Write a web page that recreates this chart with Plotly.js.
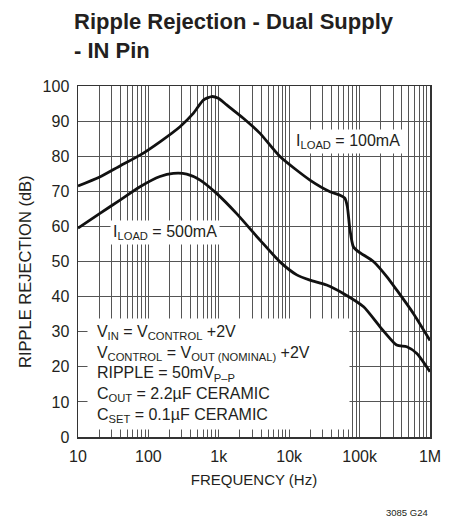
<!DOCTYPE html>
<html>
<head>
<meta charset="utf-8">
<script src="https://cdn.plot.ly/plotly-3.0.1.min.js"></script>
<style>html,body{margin:0;padding:0;background:#fff;}#chart{width:461px;height:519px;}</style>
</head>
<body>
<div id="chart"></div>
<script>
// Data
const freq100 = [10, 20, 40, 76, 146, 281, 434, 603, 792, 985, 1294, 2230, 3850, 7400, 19700, 38000, 52700, 62000, 67000, 73000, 81500, 96000, 157000, 243000, 336000, 580000, 1000000];
const db100   = [71.5, 74.0, 77.3, 80.3, 84.1, 88.4, 92.2, 96.0, 97.0, 96.5, 94.6, 90.8, 86.5, 79.9, 73.2, 69.9, 68.9, 68.0, 65.6, 59.0, 54.2, 52.8, 50.0, 45.7, 41.9, 35.2, 27.5];
const freq500 = [10, 20.5, 39.5, 76, 146, 226, 350, 543, 930, 1780, 3850, 7400, 12800, 19700, 34000, 58600, 114000, 195000, 336000, 468000, 650000, 1000000];
const db500   = [59.5, 63.7, 67.5, 71.3, 74.2, 75.1, 74.9, 73.2, 69.4, 63.7, 56.1, 49.9, 46.2, 44.7, 43.3, 40.9, 37.1, 31.4, 26.2, 25.7, 23.8, 18.6];
const xTickVals = [10, 100, 1000, 10000, 100000, 1000000];
const xTickText = ['10', '100', '1k', '10k', '100k', '1M'];
const yTickVals = [0, 10, 20, 30, 40, 50, 60, 70, 80, 90, 100];
const titleLines = ['Ripple Rejection - Dual Supply', '- IN Pin'];
const noteLines = [
  'V<sub>IN</sub> = V<sub>CONTROL</sub> +2V',
  'V<sub>CONTROL</sub> = V<sub>OUT (NOMINAL)</sub> +2V',
  'RIPPLE = 50mV<sub>P–P</sub>',
  'C<sub>OUT</sub> = 2.2µF CERAMIC',
  'C<sub>SET</sub> = 0.1µF CERAMIC'
];

const FONT = '"Liberation Sans", Arial, Helvetica, sans-serif';
const INK = '#231f20';

// minor grid values: 2..9 multiples in each decade
const minorVals = [];
for (let d = 10; d < 1000000; d *= 10) {
  for (let m = 2; m <= 9; m++) minorVals.push(d * m);
}

const traces = [
  {x: freq100, y: db100, mode: 'lines', line: {color: '#111', width: 2.8, shape: 'spline', smoothing: 0.6}, hoverinfo: 'skip'},
  {x: freq500, y: db500, mode: 'lines', line: {color: '#111', width: 2.8, shape: 'spline', smoothing: 0.6}, hoverinfo: 'skip'}
];

const annotations = [];
// conditions block on a white panel
annotations.push({
  text: noteLines.map(t => '&nbsp;&nbsp;' + t).join('<br>'),
  xref: 'paper', yref: 'paper', x: 0.0256, y: 0.339,
  xanchor: 'left', yanchor: 'top', align: 'left', valign: 'middle',
  width: 261, height: 110, borderpad: 0, bgcolor: '#fff', showarrow: false,
  font: {family: FONT, size: 16, color: INK}
});
annotations.push({
  text: 'I<sub>LOAD</sub> = 100mA', xref: 'paper', yref: 'paper', x: 0.612, y: 0.843,
  xanchor: 'left', yanchor: 'middle', showarrow: false, bgcolor: '#fff', borderpad: 2,
  font: {family: FONT, size: 16, color: INK}
});
annotations.push({
  text: 'I<sub>LOAD</sub> = 500mA', xref: 'paper', yref: 'paper', x: 0.092, y: 0.583,
  xanchor: 'left', yanchor: 'middle', showarrow: false, bgcolor: '#fff', borderpad: 2,
  font: {family: FONT, size: 16, color: INK}
});
annotations.push({
  text: '<b>' + titleLines.join('<br>') + '</b>', xref: 'paper', yref: 'paper', x: -0.017, y: 1.226,
  xanchor: 'left', yanchor: 'top', align: 'left', showarrow: false,
  font: {family: FONT, size: 22, color: INK}
});
annotations.push({
  text: 'RIPPLE REJECTION (dB)', xref: 'paper', yref: 'paper', x: -0.1506, y: 0.473,
  xanchor: 'center', yanchor: 'middle', textangle: -90, showarrow: false,
  font: {family: FONT, size: 16.5, color: INK}
});
annotations.push({
  text: '3085 G24', xref: 'paper', yref: 'paper', x: 1.0, y: -0.2165,
  xanchor: 'right', yanchor: 'middle', showarrow: false,
  font: {family: FONT, size: 9.5, color: INK}
});

const layout = {
  width: 461, height: 519,
  margin: {l: 78, r: 31, t: 86, b: 82},
  paper_bgcolor: '#fff', plot_bgcolor: '#fff',
  showlegend: false,
  xaxis: {
    type: 'log', range: [1, 6],
    tickmode: 'array', tickvals: xTickVals, ticktext: xTickText,
    ticks: '', ticklabelstandoff: 4,
    showgrid: true, gridcolor: '#555', gridwidth: 1,
    minor: {tickmode: 'array', tickvals: minorVals, showgrid: true, gridcolor: '#555', gridwidth: 1, ticks: ''},
    showline: true, linecolor: '#333', linewidth: 1.5, mirror: true,
    zeroline: false,
    tickfont: {family: FONT, size: 16, color: INK},
    title: {text: 'FREQUENCY (Hz)', font: {family: FONT, size: 15, color: INK}, standoff: 11}
  },
  yaxis: {
    range: [0, 100], tickmode: 'array', tickvals: yTickVals,
    ticks: '', ticklabelstandoff: 4,
    showgrid: true, gridcolor: '#555', gridwidth: 1,
    showline: true, linecolor: '#333', linewidth: 1.5, mirror: true,
    zeroline: false,
    tickfont: {family: FONT, size: 16, color: INK}
  },
  annotations: annotations
};

Plotly.newPlot('chart', traces, layout, {displayModeBar: false, staticPlot: true});
</script>
</body>
</html>
